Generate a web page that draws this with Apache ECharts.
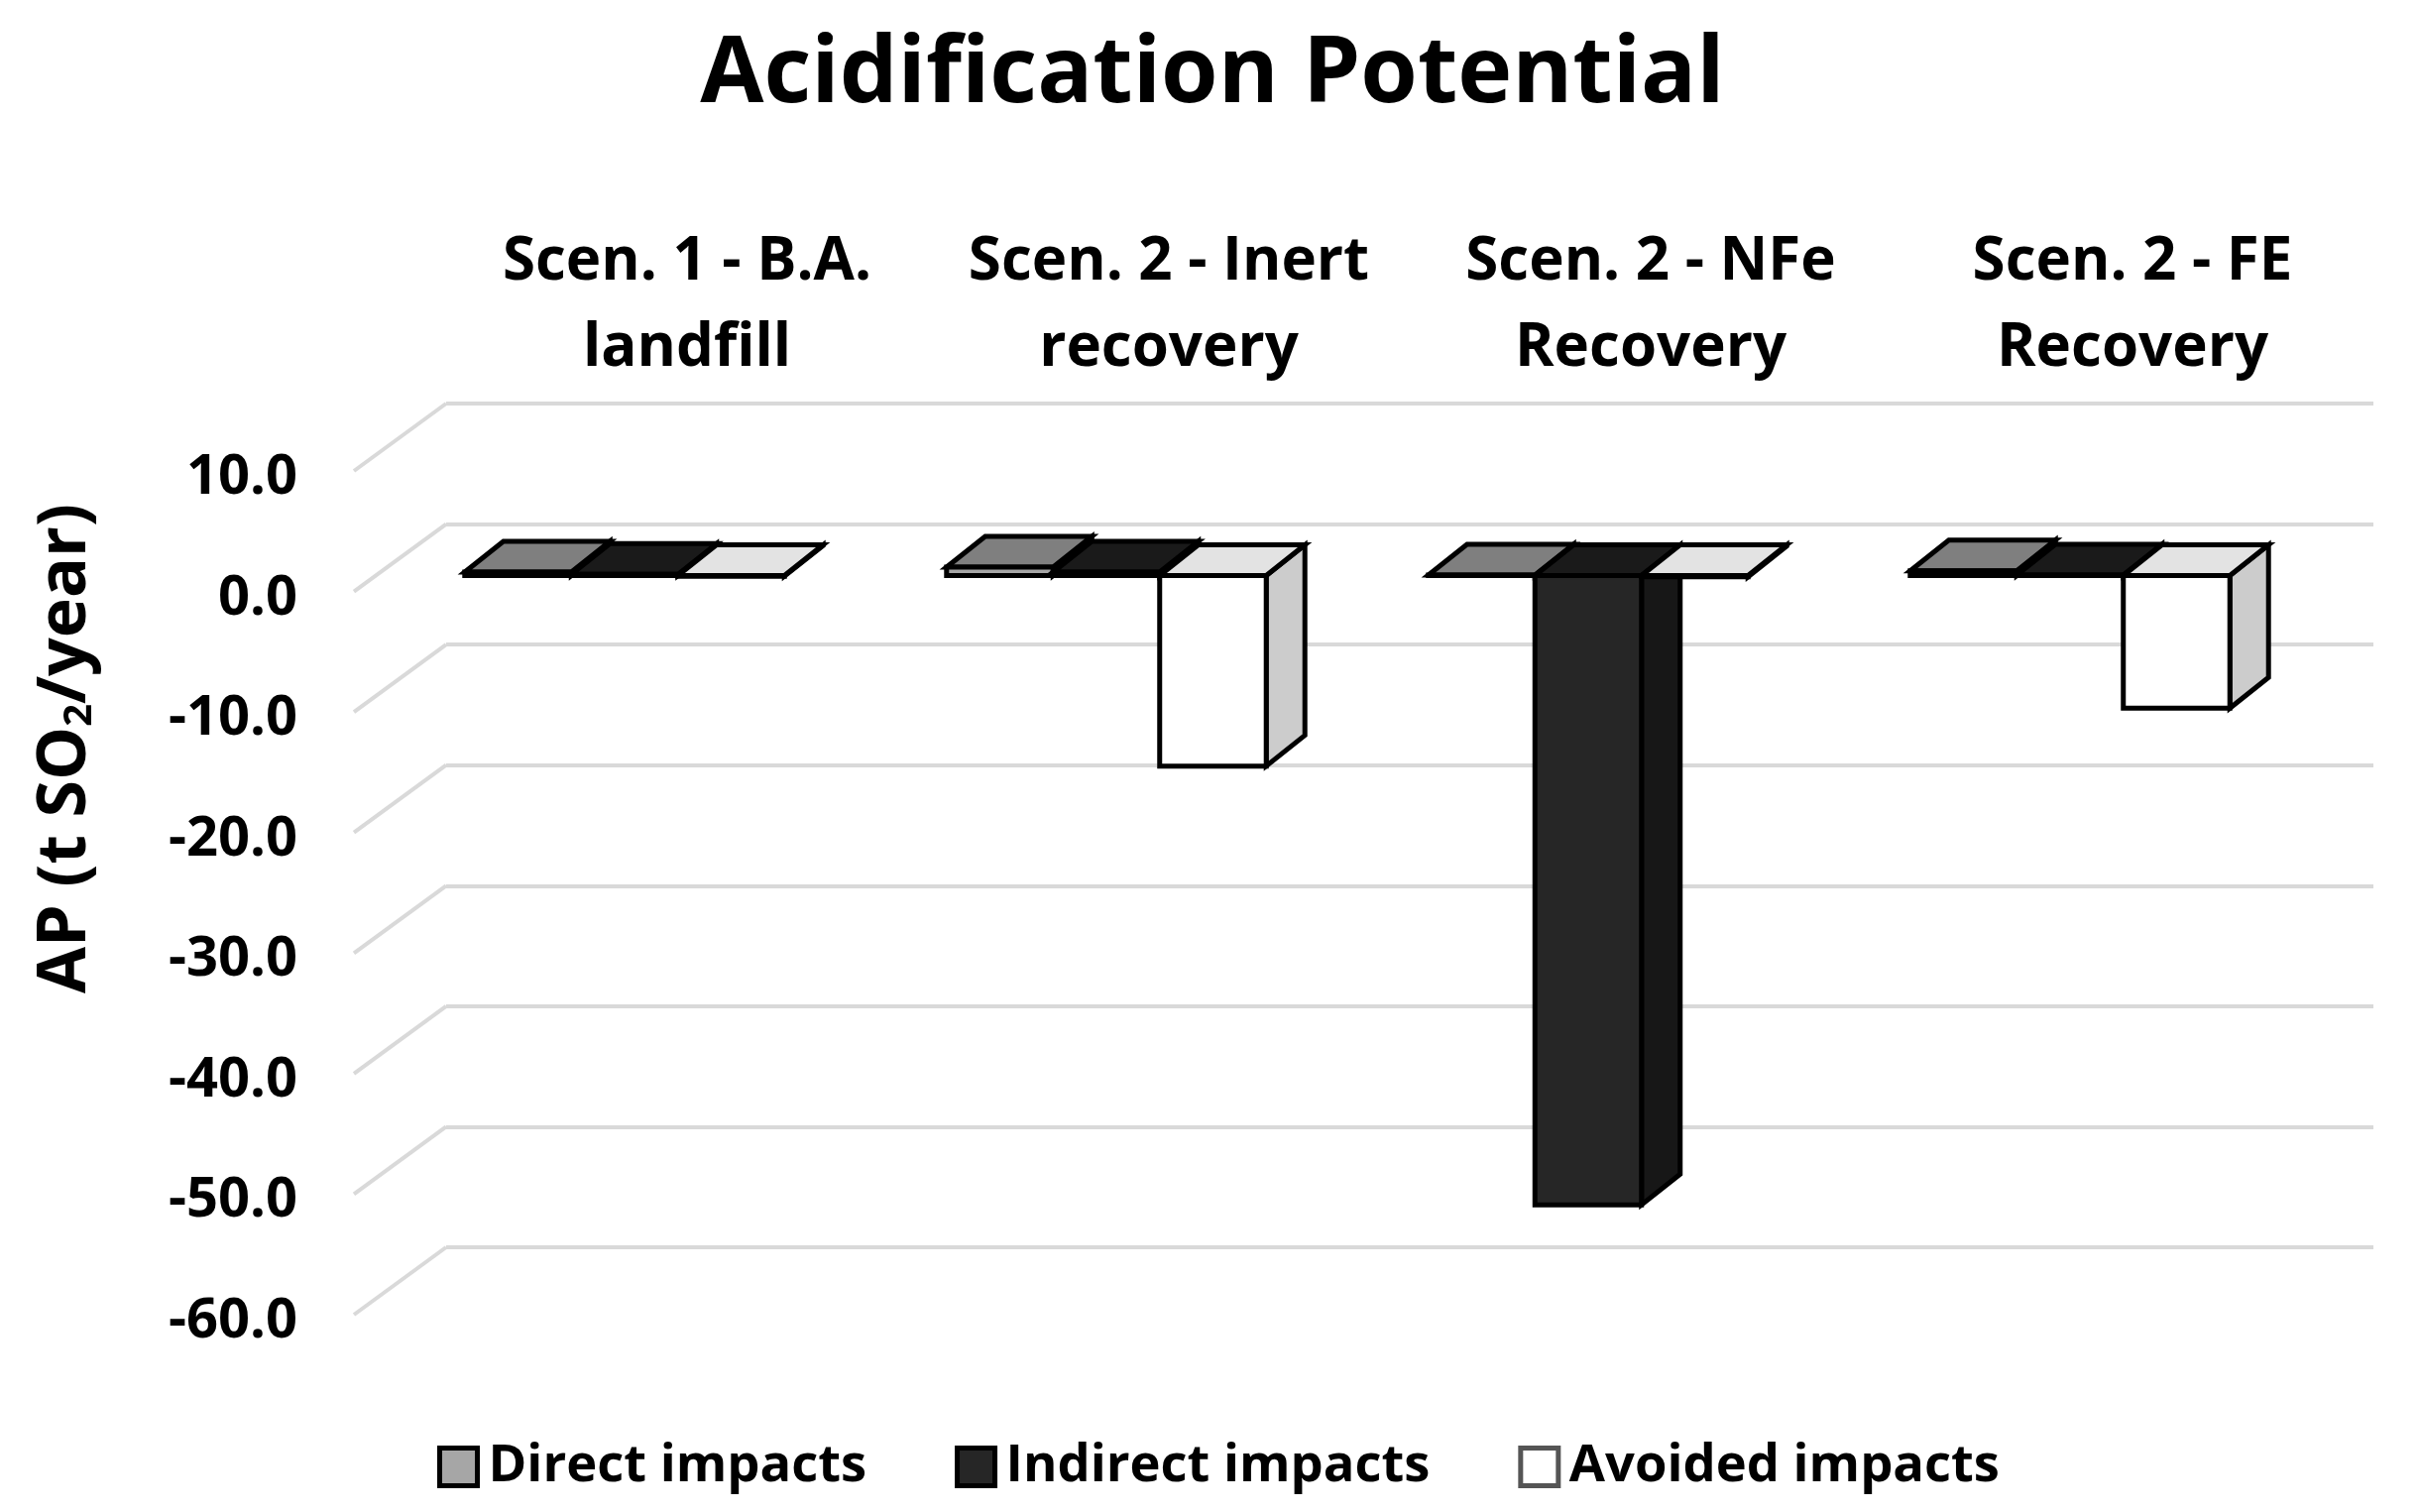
<!DOCTYPE html>
<html><head><meta charset="utf-8">
<style>html,body{margin:0;padding:0;background:#fff}#c{width:2441px;height:1525px}</style>
<script src="https://cdn.jsdelivr.net/npm/echarts@6/dist/echarts.min.js"></script>
</head><body><div id="c"></div>
<script>
const categories = ['Scen. 1 - B.A.\nlandfill','Scen. 2 - Inert\nrecovery','Scen. 2 - NFe\nRecovery','Scen. 2 - FE\nRecovery'];
const directImpacts = [0.3, 0.7, 0.05, 0.4];
const indirectImpacts = [0.1, 0.3, -52.2, 0.05];
const avoidedImpacts = [-0.05, -15.8, -0.1, -11.0];
const wallTicks = [10,0,-10,-20,-30,-40,-50,-60];
const font = '"Open Sans"';
const yMin=-60, yMax=10, plotH=851, plotW=1944;
const depthX=39, depthY=31, wallDX=93, wallDY=68;
const barFrac=69/312;
const palette = {
  Direct:{front:'#a6a6a6',top:'#7f7f7f',side:'#6e6e6e'},
  Indirect:{front:'#262626',top:'#1a1a1a',side:'#171717'},
  Avoided:{front:'#ffffff',top:'#e3e3e3',side:'#cccccc'}
};
function barSeries(name,data,idx,col){
  return {
    type:'custom',name,xAxisIndex:2,yAxisIndex:2,
    data:data.map((v,i)=>[categories[i],v]),
    encode:{x:0,y:1},
    itemStyle:{color:col.front,borderColor:'#000',borderWidth:5},
    z:5+idx,
    renderItem(params,api){
      const v=api.value(1);
      const c=api.coord([api.value(0),v]);
      const z=api.coord([api.value(0),0]);
      const w=api.size([1,0])[0]*barFrac;
      const x0=c[0]+(idx-1)*w-w/2, x1=x0+w;
      const t=Math.min(c[1],z[1]), b=Math.max(c[1],z[1]);
      const st=f=>({fill:f,stroke:'#000',lineWidth:5,lineJoin:'miter'});
      return {type:'group',children:[
        {type:'polygon',shape:{points:[[x1,t],[x1+depthX,t-depthY],[x1+depthX,b-depthY],[x1,b]]},style:st(col.side)},
        {type:'polygon',shape:{points:[[x0,t],[x0+depthX,t-depthY],[x1+depthX,t-depthY],[x1,t]]},style:st(col.top)},
        {type:'polygon',shape:{points:[[x0,t],[x1,t],[x1,b],[x0,b]]},style:st(col.front)}
      ]};
    }
  };
}
const hiddenX=i=>({type:'category',gridIndex:i,data:categories,show:false});
const hiddenY=i=>({type:'value',gridIndex:i,min:yMin,max:yMax,interval:10,show:false});
const chart=echarts.init(document.getElementById('c'),null,{renderer:'canvas'});
chart.setOption({
  animation:false,backgroundColor:'#fff',
  title:{text:'Acidification Potential',left:1218,textAlign:'center',top:25,
    textStyle:{fontFamily:font,fontWeight:'bold',fontSize:93,color:'#000'}},
  legend:{left:436,top:1448,itemWidth:38,itemHeight:38,itemGap:89,icon:'rect',
    itemStyle:{borderWidth:5,borderColor:'#000'},
    data:['Direct impacts','Indirect impacts',{name:'Avoided impacts',itemStyle:{borderColor:'#555'}}],
    textStyle:{fontFamily:font,fontWeight:'bold',fontSize:52.5,color:'#000',padding:[0,0,0,6]}},
  grid:[
    {left:357,top:482,width:plotW,height:plotH},
    {left:450,top:407,width:plotW,height:plotH},
    {left:387,top:459,width:plotW,height:plotH}
  ],
  xAxis:[
    hiddenX(0),
    {type:'category',gridIndex:1,data:categories,position:'top',
      axisLine:{show:false,onZero:false},axisTick:{show:false},
      axisLabel:{interval:0,margin:12,fontFamily:font,fontWeight:'bold',fontSize:60,lineHeight:87,color:'#000'}},
    hiddenX(2)
  ],
  yAxis:[
    {type:'value',gridIndex:0,min:yMin,max:yMax,interval:10,
      axisLine:{show:false},axisTick:{show:false},splitLine:{show:false},
      axisLabel:{margin:57,fontFamily:font,fontWeight:'bold',fontSize:56,color:'#000',formatter:v=>v.toFixed(1)}},
    {type:'value',gridIndex:1,min:yMin,max:yMax,interval:10,
      axisLine:{show:false},axisTick:{show:false},axisLabel:{show:false},
      splitLine:{show:true,lineStyle:{color:'#d9d9d9',width:4}}},
    hiddenY(2)
  ],
  graphic:[{type:'text',x:67,y:755,rotation:Math.PI/2,style:{
    text:'{m|AP (t SO}{s|2}{m|/year)}',align:'center',verticalAlign:'middle',
    rich:{m:{fontFamily:font,fontWeight:'bold',fontSize:68,fill:'#000'},
      s:{fontFamily:font,fontWeight:'bold',fontSize:40,fill:'#000',verticalAlign:'bottom'}}}}],
  series:[
    {type:'custom',name:'wall',xAxisIndex:1,yAxisIndex:1,silent:true,z:1,
      data:wallTicks.map(v=>[categories[0],v]),encode:{x:0,y:1},
      renderItem(params,api){
        const y=api.coord([api.value(0),api.value(1)])[1];
        const x=params.coordSys.x;
        return {type:'line',shape:{x1:x,y1:y,x2:x-wallDX,y2:y+wallDY},style:{stroke:'#d9d9d9',lineWidth:4}};
      }},
    barSeries('Direct impacts',directImpacts,0,palette.Direct),
    barSeries('Indirect impacts',indirectImpacts,1,palette.Indirect),
    barSeries('Avoided impacts',avoidedImpacts,2,palette.Avoided)
  ]
});
</script></body></html>
